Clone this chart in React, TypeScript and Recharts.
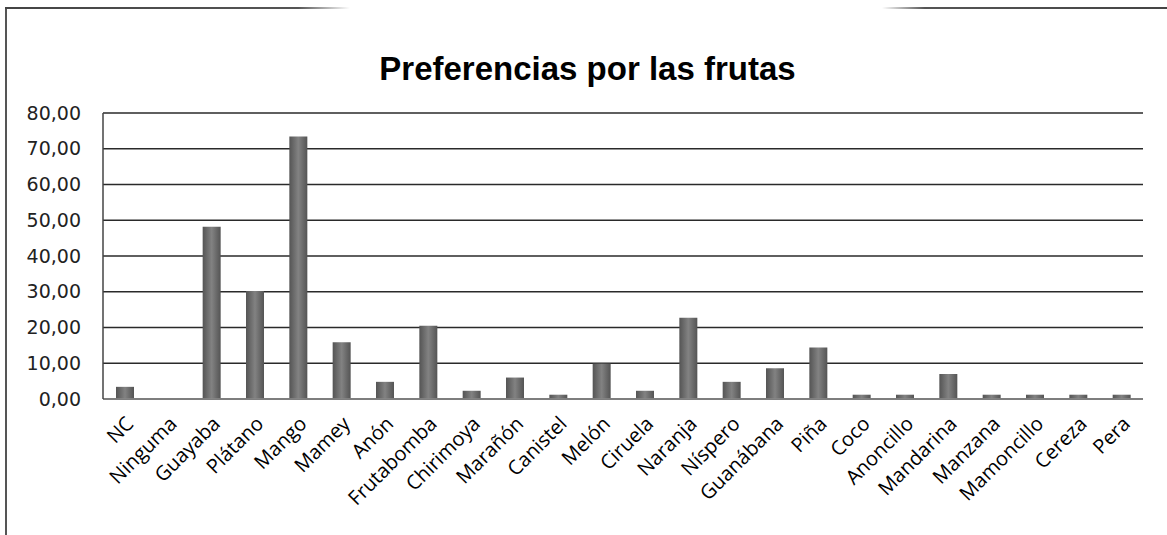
import { BarChart, Bar, XAxis, YAxis, CartesianGrid } from 'recharts'

const frutas = [
  'NC', 'Ninguma', 'Guayaba', 'Plátano', 'Mango', 'Mamey', 'Anón', 'Frutabomba',
  'Chirimoya', 'Marañón', 'Canistel', 'Melón', 'Ciruela', 'Naranja', 'Níspero',
  'Guanábana', 'Piña', 'Coco', 'Anoncillo', 'Mandarina', 'Manzana', 'Mamoncillo',
  'Cereza', 'Pera',
]
const porcentajes = [
  3.4, 0, 48.2, 30.2, 73.4, 15.9, 4.8, 20.5, 2.3, 6.0, 1.2, 9.9, 2.3, 22.7, 4.8,
  8.6, 14.4, 1.2, 1.2, 7.0, 1.2, 1.2, 1.2, 1.2,
]
const yTicks = [0, 10, 20, 30, 40, 50, 60, 70, 80]
const titulo = 'Preferencias por las frutas'

const data = frutas.map((name, i) => ({ name, value: porcentajes[i] }))

const fmt = (v: number) => v.toFixed(2).replace('.', ',')

export default function App() {
  return (
    <div style={{ position: 'fixed', left: 0, top: 0, width: 1167, height: 535, background: '#fff' }}>
      {/* marco del gráfico */}
      <div style={{ position: 'absolute', left: 5, top: 8, width: 2, height: 527, background: '#555' }} />
      <div
        style={{
          position: 'absolute', left: 5, top: 7, width: 345, height: 2,
          background: 'linear-gradient(to right, #444 0%, #555 85%, rgba(120,120,120,0) 100%)',
        }}
      />
      <div
        style={{
          position: 'absolute', left: 882, top: 7, width: 285, height: 2,
          background: 'linear-gradient(to right, rgba(120,120,120,0) 0%, #555 15%, #444 100%)',
        }}
      />
      <div
        style={{
          position: 'absolute', left: 0, top: 52, width: 1175, textAlign: 'center',
          fontFamily: '"Liberation Sans", Arial, sans-serif', fontWeight: 'bold',
          fontSize: 33, lineHeight: '33px', color: '#000',
        }}
      >
        {titulo}
      </div>
      <BarChart
        width={1167}
        height={535}
        data={data}
        margin={{ top: 113, right: 24, bottom: 0, left: 0 }}
        barSize={18}
        style={{ position: 'absolute', left: 0, top: 0 }}
      >
        <defs>
          <linearGradient id="barGrad" x1="0" y1="0" x2="1" y2="0">
            <stop offset="0%" stopColor="#545454" />
            <stop offset="50%" stopColor="#828282" />
            <stop offset="100%" stopColor="#545454" />
          </linearGradient>
        </defs>
        <CartesianGrid vertical={false} stroke="#2a2a2a" strokeWidth={1.6} />
        <XAxis
          dataKey="name"
          interval={0}
          angle={-45}
          textAnchor="end"
          height={136}
          tickLine={false}
          tickSize={0}
          tickMargin={16}
          axisLine={{ stroke: '#888', strokeWidth: 1.5 }}
          tick={{ fill: '#000', fontSize: 20, fontFamily: '"Open Sans", sans-serif' }}
        />
        <YAxis
          type="number"
          domain={[0, 80]}
          ticks={yTicks}
          width={103}
          tickLine={false}
          tickSize={0}
          tickMargin={22}
          tickFormatter={fmt}
          axisLine={{ stroke: '#444', strokeWidth: 1.5 }}
          tick={{ fill: '#222', fontSize: 19, fontFamily: '"DejaVu Sans", Verdana, sans-serif' }}
        />
        <Bar dataKey="value" fill="url(#barGrad)" isAnimationActive={false} />
      </BarChart>
    </div>
  )
}
